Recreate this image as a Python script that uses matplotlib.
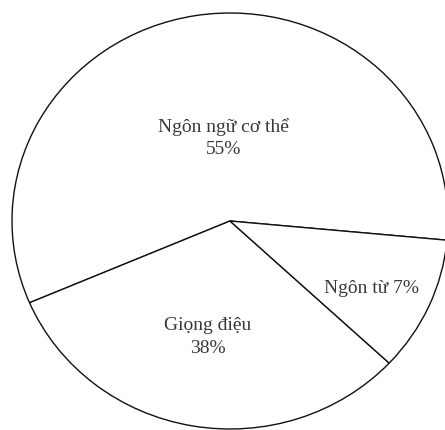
import matplotlib
matplotlib.use('Agg')
import matplotlib.pyplot as plt

categories = ['Ngôn ngữ cơ thể', 'Giọng điệu', 'Ngôn từ']
percent_labels = [55, 38, 7]
# slice sizes as they are drawn in the picture (arc share, %)
slice_shares = [57.9, 31.6, 10.5]
label_texts = ['Ngôn ngữ cơ thể\n55%', 'Giọng điệu\n38%', 'Ngôn từ 7%']
label_pos = [(-0.028, 0.404), (-0.101, -0.553), (0.651, -0.322)]

fig = plt.figure(figsize=(4.45, 4.31), dpi=100)
ax = fig.add_axes([0, 0, 1, 1])

ax.pie(slice_shares, startangle=-5.3, counterclock=True,
       colors=['white'] * len(slice_shares),
       wedgeprops={'edgecolor': '#111111', 'linewidth': 1.0})

for txt, (x, y) in zip(label_texts, label_pos):
    ax.text(x, y, txt, ha='center', va='center', fontsize=14,
            family='Liberation Serif', color='#383838', linespacing=1.4)

ax.set_aspect('auto')
ax.set_xlim(-230 / 218, 215 / 218)
ax.set_ylim(-209 / 208, 222 / 208)
ax.axis('off')

fig.savefig('out.png', dpi=100, facecolor='white')
